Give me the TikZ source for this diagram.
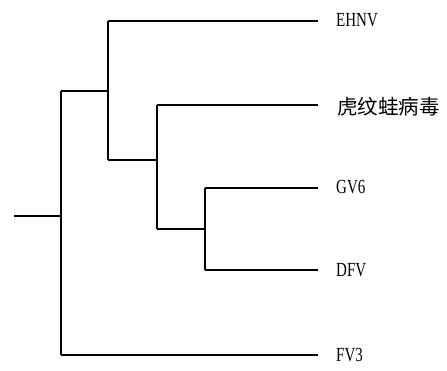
\documentclass[tikz,border=0pt]{standalone}
\usepackage{fontspec}
\setmainfont{Liberation Serif}
\newfontfamily\cjk{Noto Sans CJK SC}
\begin{document}
\begin{tikzpicture}[x=1pt,y=-1pt,
  branch/.style={draw=black,line width=1.3pt},
  leaf/.style={anchor=west,inner sep=0pt,font=\fontsize{20}{20}\selectfont},
  cjkleaf/.style={anchor=west,inner sep=0pt,font=\cjk\fontsize{20.5}{20.5}\selectfont}]
\useasboundingbox (0,0) rectangle (447,370);
% internal nodes
\coordinate (stub) at (14,216);
\coordinate (r) at (61,216);
\coordinate (rt) at (61,91);
\coordinate (rb) at (61,355);
\coordinate (b) at (108,91);
\coordinate (bt) at (108,21);
\coordinate (bb) at (108,160);
\coordinate (c) at (157,160);
\coordinate (ct) at (157,105);
\coordinate (cb) at (157,229);
\coordinate (d) at (205,229);
\coordinate (dt) at (205,188);
\coordinate (db) at (205,270);
% tips
\coordinate (t1) at (318,21);
\coordinate (t2) at (318,105);
\coordinate (t3) at (318,188);
\coordinate (t4) at (318,270);
\coordinate (t5) at (318,355);
% labels
\node[leaf] (l1) at (336,20) {\scalebox{0.75}[1]{EHNV}};
\node[cjkleaf] (l2) at (337,107) {虎纹蛙病毒};
\node[leaf] (l3) at (336,187) {\scalebox{0.75}[1]{GV6}};
\node[leaf] (l4) at (336,270) {\scalebox{0.75}[1]{DFV}};
\node[leaf] (l5) at (336,355) {\scalebox{0.75}[1]{FV3}};
% tree
\draw[branch] (stub) -- (r);
\draw[branch] (rt) -- (rb);
\draw[branch] (rt) -- (b);
\draw[branch] (rb) -- (t5);
\draw[branch] (bt) -- (bb);
\draw[branch] (bt) -- (t1);
\draw[branch] (bb) -- (c);
\draw[branch] (ct) -- (cb);
\draw[branch] (ct) -- (t2);
\draw[branch] (cb) -- (d);
\draw[branch] (dt) -- (db);
\draw[branch] (dt) -- (t3);
\draw[branch] (db) -- (t4);
\end{tikzpicture}
\end{document}
